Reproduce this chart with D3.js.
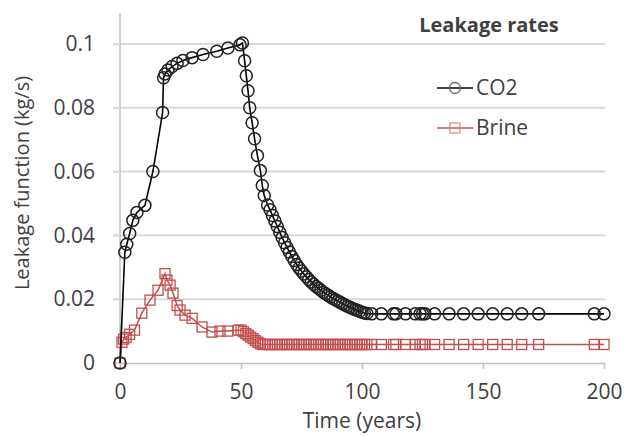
<!DOCTYPE html>
<html lang="en">
<head>
<meta charset="UTF-8">
<script src="https://d3js.org/d3.v7.min.js"></script>
<title>Leakage rates</title>
<style>
    body { margin: 0; background: #fff; }
    text { font-family: 'Open Sans', sans-serif; fill: #404040; }
</style>
</head>
<body>
<script>
    const width = 627, height = 437;
    const margin = {top: 12, right: 23, bottom: 74, left: 120};

    // CO2 series (years, kg/s)
    const co2Time = [0, 2, 2.8, 4, 5.3, 7, 10.3, 13.6, 17.6, 18, 18.6, 19.8, 21.5, 23.6, 26, 29.8, 34.3, 40, 44.6, 49.6, 50.6,
        51.5, 52.2, 52.9, 53.6, 54.6, 55.6, 56.8, 58, 58.8, 59.6,
        61, 62, 63, 64, 65, 66, 67, 68, 69, 70, 71, 72, 73, 74, 75, 76, 77, 78, 79, 80, 81, 82, 83, 84, 85, 86, 87, 88, 89, 90,
        91, 92, 93, 94, 95, 96, 97, 98, 99, 100, 101, 102,
        104, 108, 113, 114, 118, 122, 124, 125, 126, 130, 136, 142, 148, 154, 160, 166, 173, 196, 200];
    const co2Rate = [0, 0.0347, 0.0372, 0.0406, 0.0447, 0.0472, 0.0494, 0.060, 0.0785, 0.0894, 0.0906, 0.0918, 0.0929, 0.0939, 0.0948, 0.0957, 0.0967, 0.0977, 0.0987, 0.0997, 0.1003,
        0.0947, 0.0900, 0.0853, 0.0800, 0.0753, 0.0703, 0.0650, 0.0603, 0.0556, 0.0525,
        0.0495, 0.0480, 0.0462, 0.0445, 0.0428, 0.0410, 0.0393, 0.0377, 0.0362, 0.0348, 0.0334, 0.0321, 0.0309, 0.0298, 0.0288, 0.0279, 0.0270, 0.0262, 0.0254, 0.0247,
        0.0240, 0.0234, 0.0228, 0.0222, 0.0217, 0.0212, 0.0207, 0.0202, 0.0198, 0.0194, 0.0190, 0.0186, 0.0182, 0.0178, 0.0175, 0.0171, 0.0168, 0.0165, 0.0162, 0.0159, 0.0157, 0.0155,
        0.0154, 0.0154, 0.0154, 0.0154, 0.0154, 0.0154, 0.0154, 0.0154, 0.0154, 0.0154, 0.0154, 0.0154, 0.0154, 0.0154, 0.0154, 0.0154, 0.0154, 0.0154, 0.0154];

    // Brine series
    const brineTime = [0, 0.8, 1.5, 2.5, 4, 6, 9, 12.4, 15.7, 18.6, 19.4, 20.7, 21.9, 23.6, 24.8, 26.9, 29.8, 33.9, 38, 41.3, 44.6, 48.8, 50,
        51, 52, 53, 54, 55, 56, 57, 58, 59, 60, 61, 62, 63, 64, 65, 66, 67, 68, 69, 70, 71, 72, 73, 74, 75, 76, 77, 78, 79, 80,
        81, 82, 83, 84, 85, 86, 87, 88, 89, 90, 91, 92, 93, 94, 95, 96, 97, 98, 99, 100, 101, 102,
        104, 108, 113, 114, 118, 122, 124, 125, 126, 130, 136, 142, 148, 154, 160, 166, 173, 196, 200];
    const brineRate = [0, 0.0065, 0.0075, 0.0080, 0.0090, 0.0103, 0.0156, 0.0197, 0.0228, 0.0280, 0.0260, 0.0244, 0.0219, 0.0180, 0.0166, 0.0150, 0.0140, 0.0113, 0.0097, 0.0100, 0.0100, 0.0103, 0.0103,
        0.0098, 0.0092, 0.0087, 0.0081, 0.0076, 0.0070, 0.0065, 0.0060, 0.0058, 0.0058, 0.0058, 0.0058, 0.0058, 0.0058, 0.0058, 0.0058, 0.0058, 0.0058, 0.0058, 0.0058, 0.0058, 0.0058, 0.0058, 0.0058, 0.0058, 0.0058, 0.0058, 0.0058, 0.0058, 0.0058,
        0.0058, 0.0058, 0.0058, 0.0058, 0.0058, 0.0058, 0.0058, 0.0058, 0.0058, 0.0058, 0.0058, 0.0058, 0.0058, 0.0058, 0.0058, 0.0058, 0.0058, 0.0058, 0.0058, 0.0058, 0.0058, 0.0058,
        0.0058, 0.0058, 0.0058, 0.0058, 0.0058, 0.0058, 0.0058, 0.0058, 0.0058, 0.0058, 0.0058, 0.0058, 0.0058, 0.0058, 0.0058, 0.0058, 0.0058, 0.0058, 0.0058];

    const xTicks = [0, 50, 100, 150, 200];
    const yTicks = [0, 0.02, 0.04, 0.06, 0.08, 0.1];
    const yTickLabels = ["0", "0.02", "0.04", "0.06", "0.08", "0.1"];
    const seriesNames = ["CO2", "Brine"];
    const seriesColors = ["#000000", "#c0504d"];

    const co2 = co2Time.map((t, i) => [t, co2Rate[i]]);
    const brine = brineTime.map((t, i) => [t, brineRate[i]]);

    const x = d3.scaleLinear().domain([0, 200]).range([margin.left, width - margin.right]);
    const y = d3.scaleLinear().domain([0, 0.11]).range([height - margin.bottom, margin.top]);

    const svg = d3.select("body").append("svg")
            .attr("width", width).attr("height", height);

    // gridlines
    svg.append("g").selectAll("line").data(yTicks.slice(1)).join("line")
            .attr("x1", x(0) - 7).attr("x2", x(200) + 1)
            .attr("y1", d => y(d)).attr("y2", d => y(d))
            .attr("stroke", "#d9d9d9").attr("stroke-width", 2);

    // y axis
    const yAxis = svg.append("g").attr("transform", `translate(${x(0)},0)`)
            .call(d3.axisLeft(y).tickValues(yTicks).tickSize(7).tickPadding(18)
                    .tickFormat((d, i) => yTickLabels[i]));
    yAxis.select(".domain").attr("d", `M0,${y(0)}V${margin.top + 1}`).attr("stroke", "#bfbfbf").attr("stroke-width", 1.5);
    yAxis.selectAll(".tick line").attr("stroke", "#d9d9d9").attr("stroke-width", 2);
    yAxis.selectAll(".tick text").attr("font-size", 21).attr("fill", "#404040")
            .attr("font-family", "'Open Sans', sans-serif");

    // x axis
    const xAxis = svg.append("g").attr("transform", `translate(0,${y(0)})`)
            .call(d3.axisBottom(x).tickValues(xTicks).tickSize(6).tickPadding(15).tickSizeOuter(0));
    xAxis.select(".domain").attr("stroke", "#bfbfbf").attr("stroke-width", 1.5);
    xAxis.selectAll(".tick line").attr("stroke", "#bfbfbf").attr("stroke-width", 1.5);
    xAxis.selectAll(".tick text").attr("font-size", 21).attr("fill", "#404040")
            .attr("font-family", "'Open Sans', sans-serif");

    // titles
    svg.append("text").attr("x", (x(0) + x(200)) / 2).attr("y", 428)
            .attr("text-anchor", "middle").attr("font-size", 21).text("Time (years)");
    svg.append("text").attr("transform", `translate(29,${183}) rotate(-90)`)
            .attr("text-anchor", "middle").attr("font-size", 20).text("Leakage function (kg/s)");

    const line = d3.line().x(d => x(d[0])).y(d => y(d[1]));

    // brine
    svg.append("path").datum(brine).attr("d", line)
            .attr("fill", "none").attr("stroke", seriesColors[1]).attr("stroke-width", 1.5);
    svg.append("g").selectAll("rect").data(brine).join("rect")
            .attr("x", d => x(d[0]) - 5).attr("y", d => y(d[1]) - 5)
            .attr("width", 10).attr("height", 10)
            .attr("fill", "none").attr("stroke", seriesColors[1]).attr("stroke-width", 1.3);

    // CO2
    svg.append("path").datum(co2).attr("d", line)
            .attr("fill", "none").attr("stroke", seriesColors[0]).attr("stroke-width", 1.6);
    svg.append("g").selectAll("circle").data(co2).join("circle")
            .attr("cx", d => x(d[0])).attr("cy", d => y(d[1])).attr("r", 6)
            .attr("fill", "none").attr("stroke", "#222").attr("stroke-width", 1.5);

    // legend
    svg.append("text").attr("x", 489).attr("y", 32).attr("text-anchor", "middle")
            .attr("font-size", 20).attr("font-weight", "bold").attr("fill", "#000").text("Leakage rates");
    const leg = svg.append("g").selectAll("g").data(seriesNames).join("g")
            .attr("transform", (d, i) => `translate(437,${88 + i * 40})`);
    leg.append("line").attr("x1", 0).attr("x2", 36)
            .attr("stroke", (d, i) => seriesColors[i]).attr("stroke-width", 1.6);
    leg.filter((d, i) => i === 0).append("circle").attr("cx", 18).attr("r", 5.5)
            .attr("fill", "none").attr("stroke", "#666").attr("stroke-width", 1.3);
    leg.filter((d, i) => i === 1).append("rect").attr("x", 13).attr("y", -5).attr("width", 10).attr("height", 10)
            .attr("fill", "none").attr("stroke", "#e08a88").attr("stroke-width", 1.3);
    leg.append("text").attr("x", 39).attr("dy", "0.35em").attr("font-size", 21)
            .attr("fill", "#404040").text(d => d);
</script>
</body>
</html>
